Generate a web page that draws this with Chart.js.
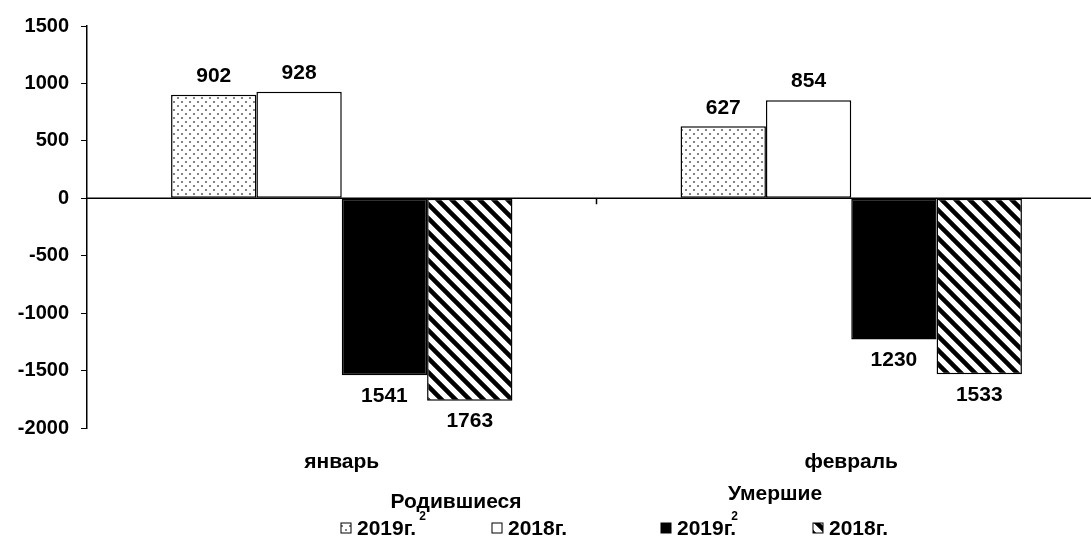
<!DOCTYPE html>
<html>
<head>
<meta charset="utf-8">
<script src="https://cdn.jsdelivr.net/npm/chart.js@4"></script>
<style>
  html, body { margin: 0; padding: 0; background: #fff; overflow: hidden; }
  #wrap { width: 1106px; height: 547px; }
</style>
</head>
<body>
<div id="wrap"><canvas id="demoChart" width="1106" height="547"></canvas></div>
<script>
var months = ['январь', 'февраль'];
var births2019 = [902, 627];
var births2018 = [928, 854];
var deaths2019 = [-1541, -1230];
var deaths2018 = [-1763, -1533];
var yTicks = [1500, 1000, 500, 0, -500, -1000, -1500, -2000];

var FONT = '"Liberation Sans", Arial, sans-serif';

// fill patterns
function makeDots() {
    var c = document.createElement('canvas');
    c.width = 8; c.height = 8;
    var g = c.getContext('2d');
    g.fillStyle = '#fff';
    g.fillRect(0, 0, 8, 8);
    g.fillStyle = '#666';
    g.beginPath(); g.arc(2, 2, 1.1, 0, Math.PI * 2); g.fill();
    g.beginPath(); g.arc(6, 6, 1.1, 0, Math.PI * 2); g.fill();
    return g.createPattern(c, 'repeat');
}
function makeStripes() {
    var c = document.createElement('canvas');
    c.width = 14; c.height = 14;
    var g = c.getContext('2d');
    g.fillStyle = '#fff';
    g.fillRect(0, 0, 14, 14);
    g.strokeStyle = '#000';
    g.lineWidth = 4.5;
    g.beginPath();
    g.moveTo(-7, -7); g.lineTo(21, 21);
    g.moveTo(-7, 7); g.lineTo(7, 21);
    g.moveTo(7, -7); g.lineTo(21, 7);
    g.stroke();
    return g.createPattern(c, 'repeat');
}
var dots = makeDots();
var stripes = makeStripes();

var ctx = document.getElementById('demoChart').getContext('2d');

// value labels over / under the bars
var valueLabels = {
    id: 'valueLabels',
    afterDatasetsDraw: function (chart) {
        var c = chart.ctx;
        c.save();
        c.font = 'bold 21px ' + FONT;
        c.fillStyle = '#000';
        c.textAlign = 'center';
        chart.data.datasets.forEach(function (ds, i) {
            chart.getDatasetMeta(i).data.forEach(function (bar, j) {
                var v = ds.data[j];
                if (v >= 0) {
                    c.textBaseline = 'bottom';
                    c.fillText(String(v), bar.x, bar.y - 8);
                } else {
                    c.textBaseline = 'top';
                    c.fillText(String(-v), bar.x, bar.y + 10);
                }
            });
        });
        c.restore();
    }
};

// zero line, group separator and the grouped legend
var extras = {
    id: 'extras',
    afterDraw: function (chart) {
        var c = chart.ctx;
        var ys = chart.scales.y, xs = chart.scales.x;
        var y0 = ys.getPixelForValue(0);
        c.save();
        c.strokeStyle = '#000';
        c.lineWidth = 1.5;
        c.beginPath();
        c.moveTo(chart.chartArea.left, y0);
        c.lineTo(chart.chartArea.right, y0);
        var mid = (xs.getPixelForValue(0) + xs.getPixelForValue(1)) / 2;
        c.moveTo(mid, y0);
        c.lineTo(mid, y0 + 6);
        c.stroke();

        c.fillStyle = '#000';
        c.font = 'bold 21px ' + FONT;
        c.textAlign = 'center';
        c.textBaseline = 'middle';
        c.fillText('Родившиеся', 456, 502);
        c.fillText('Умершие', 775, 494);

        var items = [
            { x: 346, fill: dots, text: '2019г.', sup: 3 },
            { x: 497, fill: '#fff', text: '2018г.', sup: null },
            { x: 666, fill: '#000', text: '2019г.', sup: -5 },
            { x: 818, fill: stripes, text: '2018г.', sup: null }
        ];
        items.forEach(function (it) {
            c.fillStyle = it.fill;
            c.fillRect(it.x - 5, 523, 10, 10);
            c.strokeStyle = '#000';
            c.lineWidth = 1;
            c.strokeRect(it.x - 5, 523, 10, 10);
            c.fillStyle = '#000';
            c.font = 'bold 21px ' + FONT;
            c.textAlign = 'left';
            c.fillText(it.text, it.x + 11, 529);
            if (it.sup !== null) {
                var w = c.measureText(it.text).width;
                c.font = 'bold 12px ' + FONT;
                c.fillText('2', it.x + 11 + w + it.sup, 517);
            }
        });
        c.restore();
    }
};

var myChart = new Chart(ctx, {
    type: 'bar',
    data: {
        labels: months,
        datasets: [
            { label: '2019г. (родившиеся)', data: births2019, backgroundColor: dots },
            { label: '2018г. (родившиеся)', data: births2018, backgroundColor: '#fff' },
            { label: '2019г. (умершие)', data: deaths2019, backgroundColor: '#000' },
            { label: '2018г. (умершие)', data: deaths2018, backgroundColor: stripes }
        ].map(function (d) {
            d.borderColor = '#000';
            d.borderWidth = 1.5;
            d.borderSkipped = false;
            d.barPercentage = 1;
            d.categoryPercentage = 0.67;
            return d;
        })
    },
    options: {
        responsive: false,
        animation: false,
        events: [],
        layout: { padding: { top: 26, right: 0, bottom: 0, left: 0 } },
        plugins: {
            legend: { display: false },
            tooltip: { enabled: false }
        },
        scales: {
            y: {
                min: -2000,
                max: 1500,
                afterBuildTicks: function (axis) {
                    axis.ticks = yTicks.map(function (v) { return { value: v }; });
                },
                afterFit: function (axis) { axis.width = 87; },
                ticks: {
                    color: '#000',
                    font: { family: FONT, size: 20, weight: 'bold' },
                    padding: 12,
                    callback: function (v) { return String(v); }
                },
                grid: {
                    drawOnChartArea: false,
                    tickLength: 6,
                    color: '#000'
                },
                border: { color: '#000', width: 1.5 }
            },
            x: {
                afterFit: function (axis) { axis.height = 119; },
                ticks: {
                    color: '#000',
                    font: { family: FONT, size: 21, weight: 'bold' },
                    padding: 22
                },
                grid: { display: false, drawTicks: false },
                border: { display: false }
            }
        }
    },
    plugins: [valueLabels, extras]
});
</script>
</body>
</html>
